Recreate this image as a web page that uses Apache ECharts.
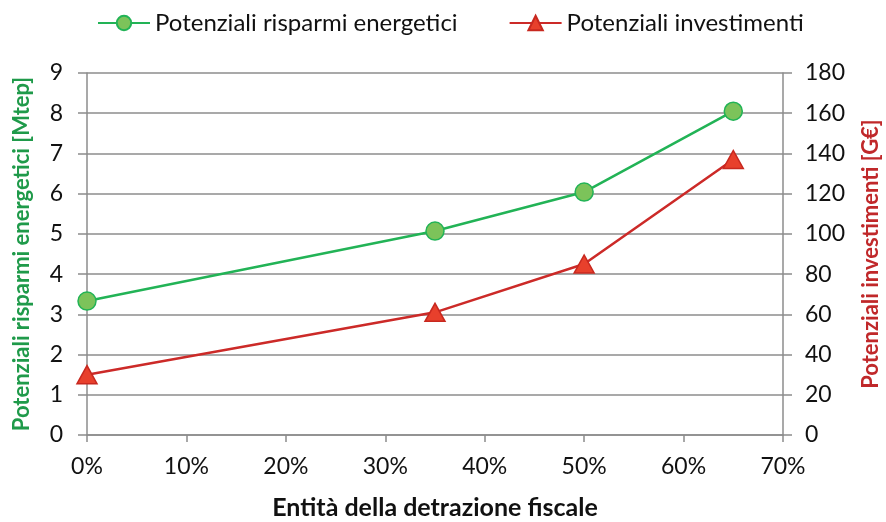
<!DOCTYPE html>
<html>
<head>
<meta charset="utf-8">
<script src="https://cdn.jsdelivr.net/npm/echarts@6/dist/echarts.min.js"></script>
<style>
  html, body { margin: 0; padding: 0; background: #fff; }
  #chart { width: 886px; height: 522px; }
</style>
</head>
<body>
<div id="chart"></div>
<script>
// detrazione fiscale (%)
const detrazione = [0, 35, 50, 65];
// Mtep
const risparmi = [3.33, 5.07, 6.04, 8.05];
// G€
const investimenti = [30, 61, 85, 137];

const font = 'Lato, "Open Sans", sans-serif';

const chart = echarts.init(document.getElementById('chart'));

chart.setOption({
  backgroundColor: '#fff',
  animation: false,
  textStyle: { fontFamily: font },
  legend: {
    top: 6,
    left: 92,
    itemGap: 51,
    itemWidth: 52,
    itemHeight: 18,
    textStyle: { fontSize: 24, color: '#111', fontFamily: font },
    data: ['Potenziali risparmi energetici', 'Potenziali investimenti']
  },
  grid: { left: 87, right: 103, top: 73, bottom: 87, outerBoundsMode: 'none' },
  xAxis: {
    type: 'value',
    min: 0, max: 70, interval: 10,
    name: 'Entità della detrazione fiscale',
    nameLocation: 'middle',
    nameGap: 60,
    nameTextStyle: { fontSize: 25, fontWeight: 'bold', color: '#111' },
    axisLine: { lineStyle: { color: '#8c8c8c', width: 1.5 } },
    axisTick: { show: true, length: 7, lineStyle: { color: '#8c8c8c', width: 1.5 } },
    splitLine: { show: false },
    axisLabel: { formatter: '{value}%', fontSize: 23, color: '#111', margin: 20 }
  },
  yAxis: [
    {
      type: 'value',
      min: 0, max: 9, interval: 1,
      name: 'Potenziali risparmi energetici [Mtep]',
      nameLocation: 'middle',
      nameGap: 54,
      nameTextStyle: { fontSize: 22, fontWeight: 'bold', color: '#1f9a4a' },
      axisLine: { show: true, lineStyle: { color: '#8c8c8c', width: 1.5 } },
      axisTick: { show: true, length: 9, lineStyle: { color: '#8c8c8c', width: 1.5 } },
      splitLine: { show: true, lineStyle: { color: '#8c8c8c', width: 1.5 } },
      axisLabel: { fontSize: 23, color: '#111', margin: 24 }
    },
    {
      type: 'value',
      min: 0, max: 180, interval: 20,
      position: 'right',
      name: 'Potenziali investimenti [G€]',
      nameLocation: 'middle',
      nameGap: 77,
      nameRotate: 90,
      nameTextStyle: { fontSize: 22, fontWeight: 'bold', color: '#c0282a' },
      axisLine: { show: true, lineStyle: { color: '#8c8c8c', width: 1.5 } },
      axisTick: { show: true, length: 9, lineStyle: { color: '#8c8c8c', width: 1.5 } },
      splitLine: { show: false },
      axisLabel: { fontSize: 23, color: '#111', margin: 22 }
    }
  ],
  series: [
    {
      name: 'Potenziali risparmi energetici',
      type: 'line',
      yAxisIndex: 0,
      data: detrazione.map((d, i) => [d, risparmi[i]]),
      symbol: 'circle',
      symbolSize: 18,
      lineStyle: { color: '#22b356', width: 2.5 },
      itemStyle: { color: '#7cc35a', borderColor: '#22b356', borderWidth: 1.5 },
      z: 3
    },
    {
      name: 'Potenziali investimenti',
      type: 'line',
      yAxisIndex: 1,
      data: detrazione.map((d, i) => [d, investimenti[i]]),
      symbol: 'triangle',
      symbolSize: [20, 18],
      lineStyle: { color: '#cc2a28', width: 2.5 },
      itemStyle: { color: '#e8402c', borderColor: '#c8281f', borderWidth: 1.5 },
      z: 2
    }
  ]
});
</script>
</body>
</html>
